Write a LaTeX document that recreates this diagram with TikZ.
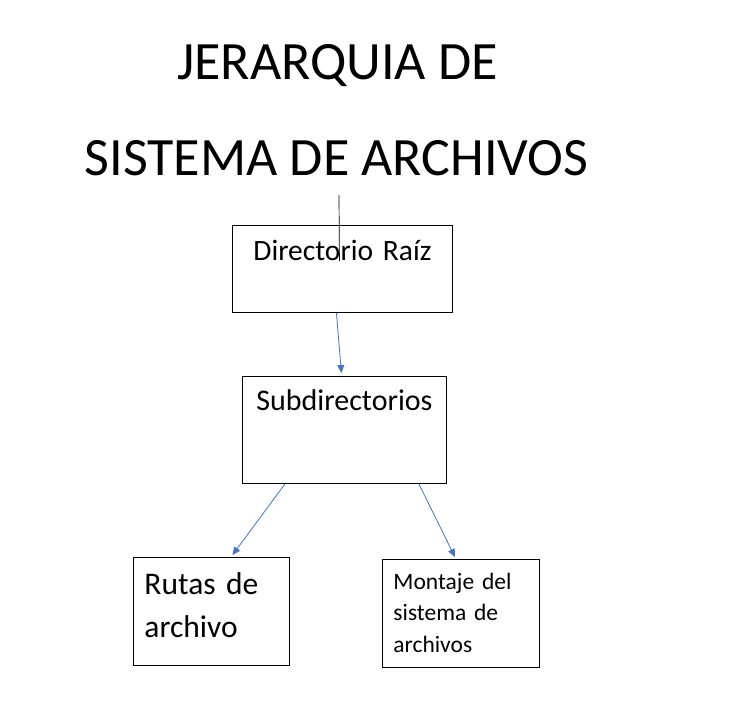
\documentclass[tikz,border=0pt]{standalone}
\usepackage{fontspec}
\setmainfont{Carlito}
\usepackage{xcolor}
\usetikzlibrary{arrows.meta, positioning, calc}
\definecolor{linkblue}{HTML}{4472C4}

\begin{document}
\begin{tikzpicture}[
  x=1pt, y=-1pt,
  title/.style={anchor=base, inner sep=0pt, font=\fontsize{54}{60}\selectfont},
  box/.style={rectangle, draw=black, line width=0.9pt, anchor=north west, inner sep=0pt},
  link/.style={draw=linkblue, line width=0.8pt, -{Triangle[length=8pt, width=7pt]}}
]
  \useasboundingbox (0,0) rectangle (750,728);

  \node[title] (tit1) at (337.5,79) {JERARQUIA DE};
  \node[title] (tit2) at (336.5,175) {SISTEMA DE ARCHIVOS};

  \node[box, text width=220pt, align=center, text height=35pt, text depth=52pt,
        font=\fontsize{29.5}{36}\selectfont] (raiz) at (232,225) {Directorio Raíz};
  \node[box, text width=204pt, align=center, text height=34pt, text depth=73pt,
        font=\fontsize{30}{36}\selectfont] (subdir) at (242,376) {Subdirectorios};
  \node[box, inner xsep=11pt, text width=134pt, align=left, text height=37pt, text depth=71pt,
        font=\fontsize{31.5}{43}\selectfont] (rutas) at (133,557) {Rutas de\\archivo};
  \node[box, inner xsep=11pt, text width=135pt, align=left, text height=30pt, text depth=78pt,
        font=\fontsize{23.5}{31.5}\selectfont] (montaje) at (382,559) {Montaje del\\sistema de\\archivos};

  \coordinate (raiztop) at (339,195);
  \draw[line width=0.7pt] (raiztop) -- ([xshift=-3pt, yshift=-36pt]raiz.north);

  \draw[link] ([xshift=-6pt]raiz.south) -- ([xshift=-3pt, yshift=3pt]subdir.north);
  \draw[link] ([xshift=43pt]subdir.south west) -- ([xshift=21pt, yshift=2pt]rutas.north);
  \draw[link] ([xshift=-28pt]subdir.south east) -- ([xshift=-6pt, yshift=2pt]montaje.north);
\end{tikzpicture}
\end{document}
